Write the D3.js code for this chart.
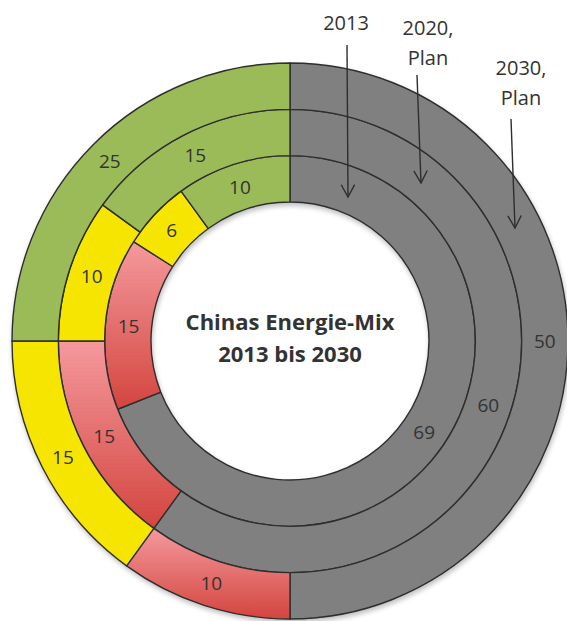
<!DOCTYPE html>
<html>
<head>
<meta charset="utf-8">
<script src="https://cdn.jsdelivr.net/npm/d3@7"></script>
<style>
  html, body { margin: 0; padding: 0; background: #fff; }
  svg { display: block; }
  text { font-family: "Open Sans", "DejaVu Sans", sans-serif; fill: #333; }
</style>
</head>
<body>
<svg id="chart" width="567" height="621"></svg>
<script>
// ---- data ----
const categories = ["Kohle", "Öl", "Gas", "Nicht-fossil"];
const years = ["2013", "2020, Plan", "2030, Plan"];
const values2013 = [69, 15, 6, 10];
const values2020 = [60, 15, 10, 15];
const values2030 = [50, 10, 15, 25];
const titleLines = ["Chinas Energie-Mix", "2013 bis 2030"];

const series = [values2013, values2020, values2030];

// ---- layout ----
const W = 567, H = 621;
const cx = 290, cy = 341;
const innerR = 139, outerR = 278;

const svg = d3.select("#chart");
const defs = svg.append("defs");

const grad = defs.append("linearGradient")
  .attr("id", "redGrad").attr("x1", 0).attr("y1", 0).attr("x2", 0).attr("y2", 1);
grad.append("stop").attr("offset", "0%").attr("stop-color", "#f5999d");
grad.append("stop").attr("offset", "100%").attr("stop-color", "#d3453f");

const shadow = defs.append("filter").attr("id", "shadow")
  .attr("x", "-10%").attr("y", "-10%").attr("width", "120%").attr("height", "120%");
shadow.append("feGaussianBlur").attr("in", "SourceAlpha").attr("stdDeviation", 2.5);
shadow.append("feOffset").attr("dx", 1).attr("dy", 3).attr("result", "ob");
shadow.append("feComponentTransfer").append("feFuncA").attr("type", "linear").attr("slope", 0.25);
const mrg = shadow.append("feMerge");
mrg.append("feMergeNode");
mrg.append("feMergeNode").attr("in", "SourceGraphic");

const color = d3.scaleOrdinal()
  .domain(categories)
  .range(["#7f807f", "url(#redGrad)", "#f5e500", "#9bbb59"]);

const ringScale = d3.scaleLinear().domain([0, years.length]).range([innerR, outerR]);

const pie = d3.pie().sort(null).value(d => d.value);

const g = svg.append("g").attr("transform", `translate(${cx},${cy})`);
const ringsG = g.append("g").attr("filter", "url(#shadow)");

series.forEach((vals, i) => {
  const data = pie(vals.map((v, k) => ({ cat: categories[k], value: v })));
  const arc = d3.arc().innerRadius(ringScale(i)).outerRadius(ringScale(i + 1));
  ringsG.selectAll(null).data(data).enter().append("path")
    .attr("d", arc)
    .attr("fill", d => color(d.data.cat))
    .attr("stroke", "#2e2e2e")
    .attr("stroke-width", 1.4)
    .attr("stroke-linejoin", "round");
  g.selectAll(null).data(data).enter().append("text")
    .attr("transform", d => `translate(${arc.centroid(d)})`)
    .attr("text-anchor", "middle")
    .attr("dy", "0.36em")
    .style("font-size", "19px")
    .text(d => d.data.value);
});

// title
svg.append("g").selectAll("text").data(titleLines).enter().append("text")
  .attr("x", cx).attr("y", (d, i) => 330 + i * 32)
  .attr("text-anchor", "middle")
  .style("font-size", "22px").style("font-weight", "bold")
  .text(d => d);

// year annotations with arrows
const annotations = [
  { label: years[0], x: 346, y: 30, x1: 347, y1: 45, x2: 348, y2: 197 },
  { label: years[1], x: 428, y: 35, x1: 417, y1: 75, x2: 421, y2: 183 },
  { label: years[2], x: 521, y: 75, x1: 511, y1: 119, x2: 515, y2: 228 }
];
const ann = svg.append("g");
annotations.forEach(a => {
  const parts = a.label.includes(",") ? [a.label.split(",")[0] + ",", a.label.split(",")[1].trim()] : [a.label];
  ann.append("g").selectAll("text").data(parts).enter().append("text")
    .attr("x", a.x).attr("y", (d, i) => a.y + i * 30)
    .attr("text-anchor", "middle")
    .style("font-size", "20px")
    .text(d => d);
  ann.append("line")
    .attr("x1", a.x1).attr("y1", a.y1).attr("x2", a.x2).attr("y2", a.y2)
    .attr("stroke", "#2e2e2e").attr("stroke-width", 1.4);
  const ang = Math.atan2(a.y2 - a.y1, a.x2 - a.x1);
  const L = 14, spread = 0.5;
  const p1 = [a.x2 - L * Math.cos(ang - spread), a.y2 - L * Math.sin(ang - spread)];
  const p2 = [a.x2 - L * Math.cos(ang + spread), a.y2 - L * Math.sin(ang + spread)];
  ann.append("path")
    .attr("d", `M${p1}L${a.x2},${a.y2}L${p2}`)
    .attr("fill", "none").attr("stroke", "#2e2e2e").attr("stroke-width", 1.4);
});
</script>
</body>
</html>
